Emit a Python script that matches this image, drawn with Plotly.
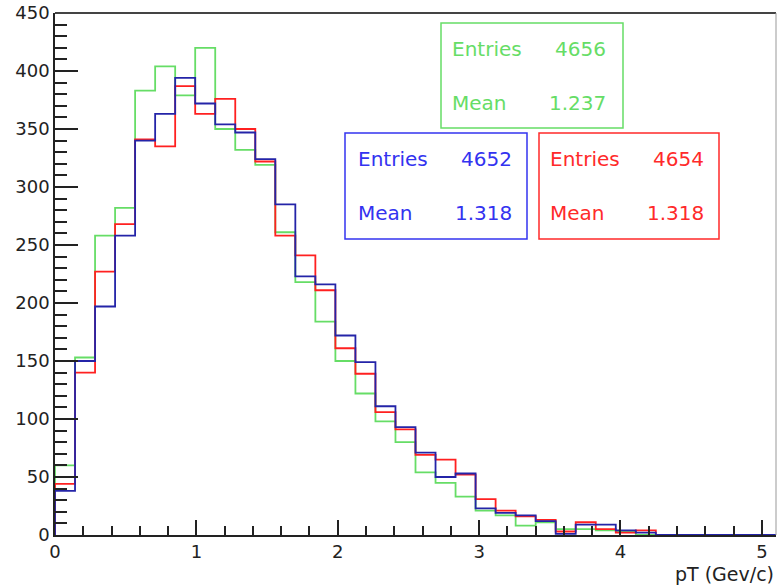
import plotly.graph_objects as go

# ---- data ----
n_bins = 36
x_min, x_max = 0.0, 5.1
green_counts = [60, 153, 258, 282, 383, 404, 379, 420, 350, 332, 319, 261, 218, 184, 150, 122, 98, 80,
                54, 45, 33, 21, 17, 8, 11, 5, 5, 4, 3, 0, 0, 0, 0, 0, 0, 0]
red_counts = [44, 140, 227, 268, 341, 335, 387, 363, 376, 350, 322, 258, 241, 211, 161, 139, 106, 91,
              69, 65, 52, 31, 21, 16, 13, 3, 11, 5, 2, 4, 0, 0, 0, 0, 0, 0]
blue_counts = [38, 150, 197, 258, 340, 363, 394, 372, 354, 347, 324, 285, 223, 216, 172, 149, 111, 93,
               71, 50, 53, 23, 19, 17, 12, 1, 9, 9, 4, 2, 0, 0, 0, 0, 0, 0]
series_names = ["green", "red", "blue"]
stats_entries = {"green": "4656", "blue": "4652", "red": "4654"}
stats_mean = {"green": "1.237", "blue": "1.318", "red": "1.318"}
x_tick_vals = [0, 1, 2, 3, 4, 5]
y_tick_vals = [0, 50, 100, 150, 200, 250, 300, 350, 400, 450]
x_title = "pT (Gev/c)"

# ---- styles ----
W, H = 778, 585
ML, MR, MT, MB = 55, 2, 13, 50
PW, PH = W - ML - MR, H - MT - MB
line_colors = {"green": "#66DD66", "red": "#FF2020", "blue": "#2424A8"}
text_colors = {"green": "#66DD66", "red": "#FF2A2A", "blue": "#3333F0"}
FONT = "DejaVu Sans"

bw = (x_max - x_min) / n_bins
edges = [x_min + i * bw for i in range(n_bins + 1)]

fig = go.Figure()
for name, counts in zip(series_names, [green_counts, red_counts, blue_counts]):
    xs = [x_min] + edges[:-1] + [x_max]
    ys = [0] + list(counts) + [0]
    fig.add_trace(go.Scatter(x=xs, y=ys, mode="lines", line_shape="hv",
                             line=dict(color=line_colors[name], width=1.8),
                             showlegend=False, hoverinfo="skip"))


def px2paper(px, py):
    return (px - ML) / PW, (H - MB - py) / PH


# stat boxes: (x0, y0, x1, y1) in pixels, text left x, value right x, entries y, mean y
boxes = {
    "green": (441, 23, 623, 128, 450, 608, 49, 103),
    "blue": (345, 133, 527, 239, 356, 514, 159, 213),
    "red": (539, 133, 719, 239, 548, 706, 159, 213),
}
shapes = []
annotations = []
for name, (x0, y0, x1, y1, tl, tr, ye, ym) in boxes.items():
    a0, b0 = px2paper(x0, y1)
    a1, b1 = px2paper(x1, y0)
    shapes.append(dict(type="rect", xref="paper", yref="paper", x0=a0, y0=b0, x1=a1, y1=b1,
                       line=dict(color=text_colors[name], width=1.5), fillcolor="white", layer="above"))
    for label, val, yy in [("Entries", stats_entries[name], ye), ("Mean", stats_mean[name], ym)]:
        lx, ly = px2paper(tl, yy)
        rx, _ = px2paper(tr, yy)
        annotations.append(dict(x=lx, y=ly, xref="paper", yref="paper", text=label, showarrow=False,
                                xanchor="left", yanchor="middle",
                                font=dict(family=FONT, size=20, color=text_colors[name])))
        annotations.append(dict(x=rx, y=ly, xref="paper", yref="paper", text=val, showarrow=False,
                                xanchor="right", yanchor="middle",
                                font=dict(family=FONT, size=20, color=text_colors[name])))

# axis title
tx, ty = px2paper(W - MR, 574)
annotations.append(dict(x=tx, y=ty, xref="paper", yref="paper", text=x_title, showarrow=False,
                        xanchor="right", yanchor="middle",
                        font=dict(family=FONT, size=19, color="#222222")))

axis_common = dict(showgrid=False, zeroline=False, showline=True, linecolor="#222222", linewidth=1.5,
                   mirror=False, ticks="inside", tickcolor="#222222", tickwidth=1.5,
                   tickfont=dict(family=FONT, size=18, color="#222222"))

fig.update_layout(
    width=W, height=H,
    margin=dict(l=ML, r=MR, t=MT, b=MB, pad=0),
    paper_bgcolor="white", plot_bgcolor="white",
    xaxis=dict(range=[x_min, x_max], tickvals=x_tick_vals, ticklen=15,
               minor=dict(dtick=0.2, tick0=0, ticklen=9, ticks="inside", tickcolor="#222222", tickwidth=1.5),
               **axis_common),
    yaxis=dict(range=[0, 450], tickvals=y_tick_vals, ticklen=23,
               minor=dict(dtick=10, tick0=0, ticklen=12, ticks="inside", tickcolor="#222222", tickwidth=1.5),
               **axis_common),
    shapes=shapes + [
        dict(type="line", xref="paper", yref="paper", x0=0, x1=1, y0=1, y1=1,
             line=dict(color="#444444", width=2)),
        dict(type="line", xref="paper", yref="paper", x0=1, x1=1, y0=0, y1=1,
             line=dict(color="#999999", width=1)),
    ],
    annotations=annotations,
)

fig.write_html("out.html")
